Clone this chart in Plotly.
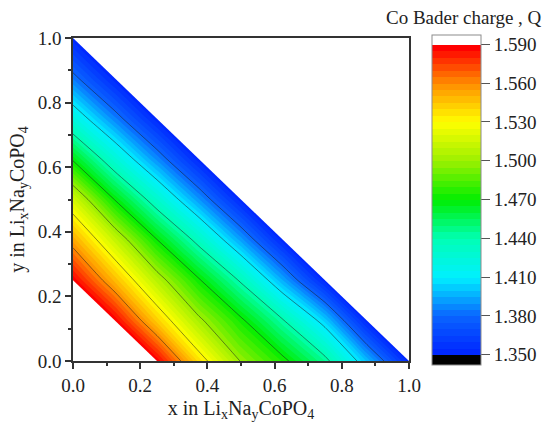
import plotly.graph_objects as go

# grid coordinates (x and y fractions)
x_vals = [0.0, 0.125, 0.25, 0.375, 0.5, 0.625, 0.75, 0.875, 1.0]
y_vals = [0.0, 0.125, 0.25, 0.375, 0.5, 0.625, 0.75, 0.875, 1.0]

# Co Bader charge Q; rows = y, columns = x; None = outside the composition domain
N = None
q_row_y000 = [N, N, 1.589, 1.538, 1.499, 1.474, 1.445, 1.399, 1.352]
q_row_y125 = [N, 1.589, 1.543, 1.5035, 1.473, 1.4413, 1.403, 1.352, N]
q_row_y250 = [1.589, 1.548, 1.508, 1.4716, 1.4377, 1.3949, 1.352, N, N]
q_row_y375 = [1.553, 1.5125, 1.4704, 1.434, 1.3928, 1.352, N, N, N]
q_row_y500 = [1.517, 1.4692, 1.4303, 1.3907, 1.352, N, N, N, N]
q_row_y625 = [1.468, 1.4267, 1.3886, 1.352, N, N, N, N, N]
q_row_y750 = [1.423, 1.3866, 1.352, N, N, N, N, N, N]
q_row_y875 = [1.3845, 1.352, N, N, N, N, N, N, N]
q_row_y1000 = [1.352, N, N, N, N, N, N, N, N]

z = [q_row_y000, q_row_y125, q_row_y250, q_row_y375, q_row_y500,
     q_row_y625, q_row_y750, q_row_y875, q_row_y1000]

# composition domain limits: sum_min <= x + y <= sum_max
sum_min = 0.25
sum_max = 1.0

q_min, q_max, q_step = 1.35, 1.59, 0.005
line_step = 0.03
cb_tick0, cb_dtick = 1.35, 0.03

# contour levels include one extra band on each side (black below, white above)
c_start = q_min - q_step
c_end = q_max + q_step
lo = c_start - q_step / 2
span = (c_end + q_step / 2) - lo

def pos(v):
    return min(1.0, max(0.0, (v - lo) / span))

rainbow = [
    (1.3525, "#0028ff"),
    (1.38, "#0a64ff"),
    (1.41, "#00f0ff"),
    (1.44, "#00ffb4"),
    (1.47, "#00ee00"),
    (1.50, "#9cf000"),
    (1.53, "#ffff00"),
    (1.56, "#ff8c00"),
    (1.5875, "#ff0000"),
]
colorscale = [[0.0, "black"], [pos(q_min - 0.0005), "black"]]
colorscale += [[pos(v), c] for v, c in rainbow]
colorscale += [[pos(q_max + 0.0005), "white"], [1.0, "white"]]

font_family = "Liberation Serif, Times New Roman, serif"
text_color = "#222222"

fig = go.Figure()

fig.add_trace(go.Contour(
    x=x_vals, y=y_vals, z=z,
    autocontour=False,
    contours=dict(start=c_start, end=c_end, size=q_step, coloring="fill", showlines=False),
    colorscale=colorscale,
    line=dict(width=0, smoothing=0.6),
    hoverinfo="skip", showlegend=False,
    colorbar=dict(
        x=(432 - 73) / 336, xanchor="left", xpad=0,
        y=(361 - 34.5) / 323, yanchor="top", ypad=0,
        lenmode="pixels", len=330, thickness=49,
        outlinecolor="#8c8c8c", outlinewidth=1,
        tickmode="linear", tick0=cb_tick0, dtick=cb_dtick, tickformat=".3f",
        ticks="outside", ticklen=9, tickwidth=1, tickcolor="#555555",
        tickfont=dict(family=font_family, size=19, color=text_color),
    ),
))

fig.add_trace(go.Contour(
    x=x_vals, y=y_vals, z=z,
    autocontour=False,
    contours=dict(start=q_min + line_step, end=q_max - line_step, size=line_step, coloring="none"),
    line=dict(color="rgba(30,30,30,0.85)", width=0.6, smoothing=0.6),
    showscale=False, showlegend=False,
    hoverinfo="skip",
))

# white masks outside the composition domain
pad = 0.1
fig.add_trace(go.Scatter(
    x=[-pad, sum_max + pad, sum_max + pad, -pad],
    y=[sum_max + pad, -pad, sum_max + pad, sum_max + pad],
    fill="toself", fillcolor="white", mode="lines", line=dict(width=0, color="white"),
    hoverinfo="skip", showlegend=False,
))
fig.add_trace(go.Scatter(
    x=[-pad, sum_min + pad, -pad, -pad],
    y=[sum_min + pad, -pad, -pad, sum_min + pad],
    fill="toself", fillcolor="white", mode="lines", line=dict(width=0, color="white"),
    hoverinfo="skip", showlegend=False,
))

axis_common = dict(
    range=[0, 1], dtick=0.2, tick0=0, tickformat=".1f",
    showline=True, linecolor="#333333", linewidth=1.5, mirror=True,
    ticks="outside", ticklen=6, tickwidth=1.5, tickcolor="#333333",
    minor=dict(ticks="outside", ticklen=3, tickwidth=1.5, dtick=0.1, tickcolor="#333333"),
    showgrid=False, zeroline=False,
    tickfont=dict(family=font_family, size=19, color=text_color),
)

fig.update_layout(
    width=542, height=422,
    showlegend=False,
    margin=dict(l=73, r=133, t=38, b=61, autoexpand=False),
    paper_bgcolor="white", plot_bgcolor="white",
    xaxis=dict(**axis_common,
               title=dict(text="x in Li<sub>x</sub>Na<sub>y</sub>CoPO<sub>4</sub>",
                          font=dict(family=font_family, size=20, color=text_color), standoff=6)),
    yaxis=dict(**axis_common,
               title=dict(text="y in Li<sub>x</sub>Na<sub>y</sub>CoPO<sub>4</sub>",
                          font=dict(family=font_family, size=20, color=text_color), standoff=8)),
    annotations=[dict(
        text="Co Bader charge , Q", xref="paper", yref="paper",
        x=(544 - 73) / 336, y=(361 - 18) / 323, xanchor="right", yanchor="middle",
        showarrow=False, font=dict(family=font_family, size=19, color=text_color),
    )],
)

fig.write_html("out.html", config={"displayModeBar": False})
